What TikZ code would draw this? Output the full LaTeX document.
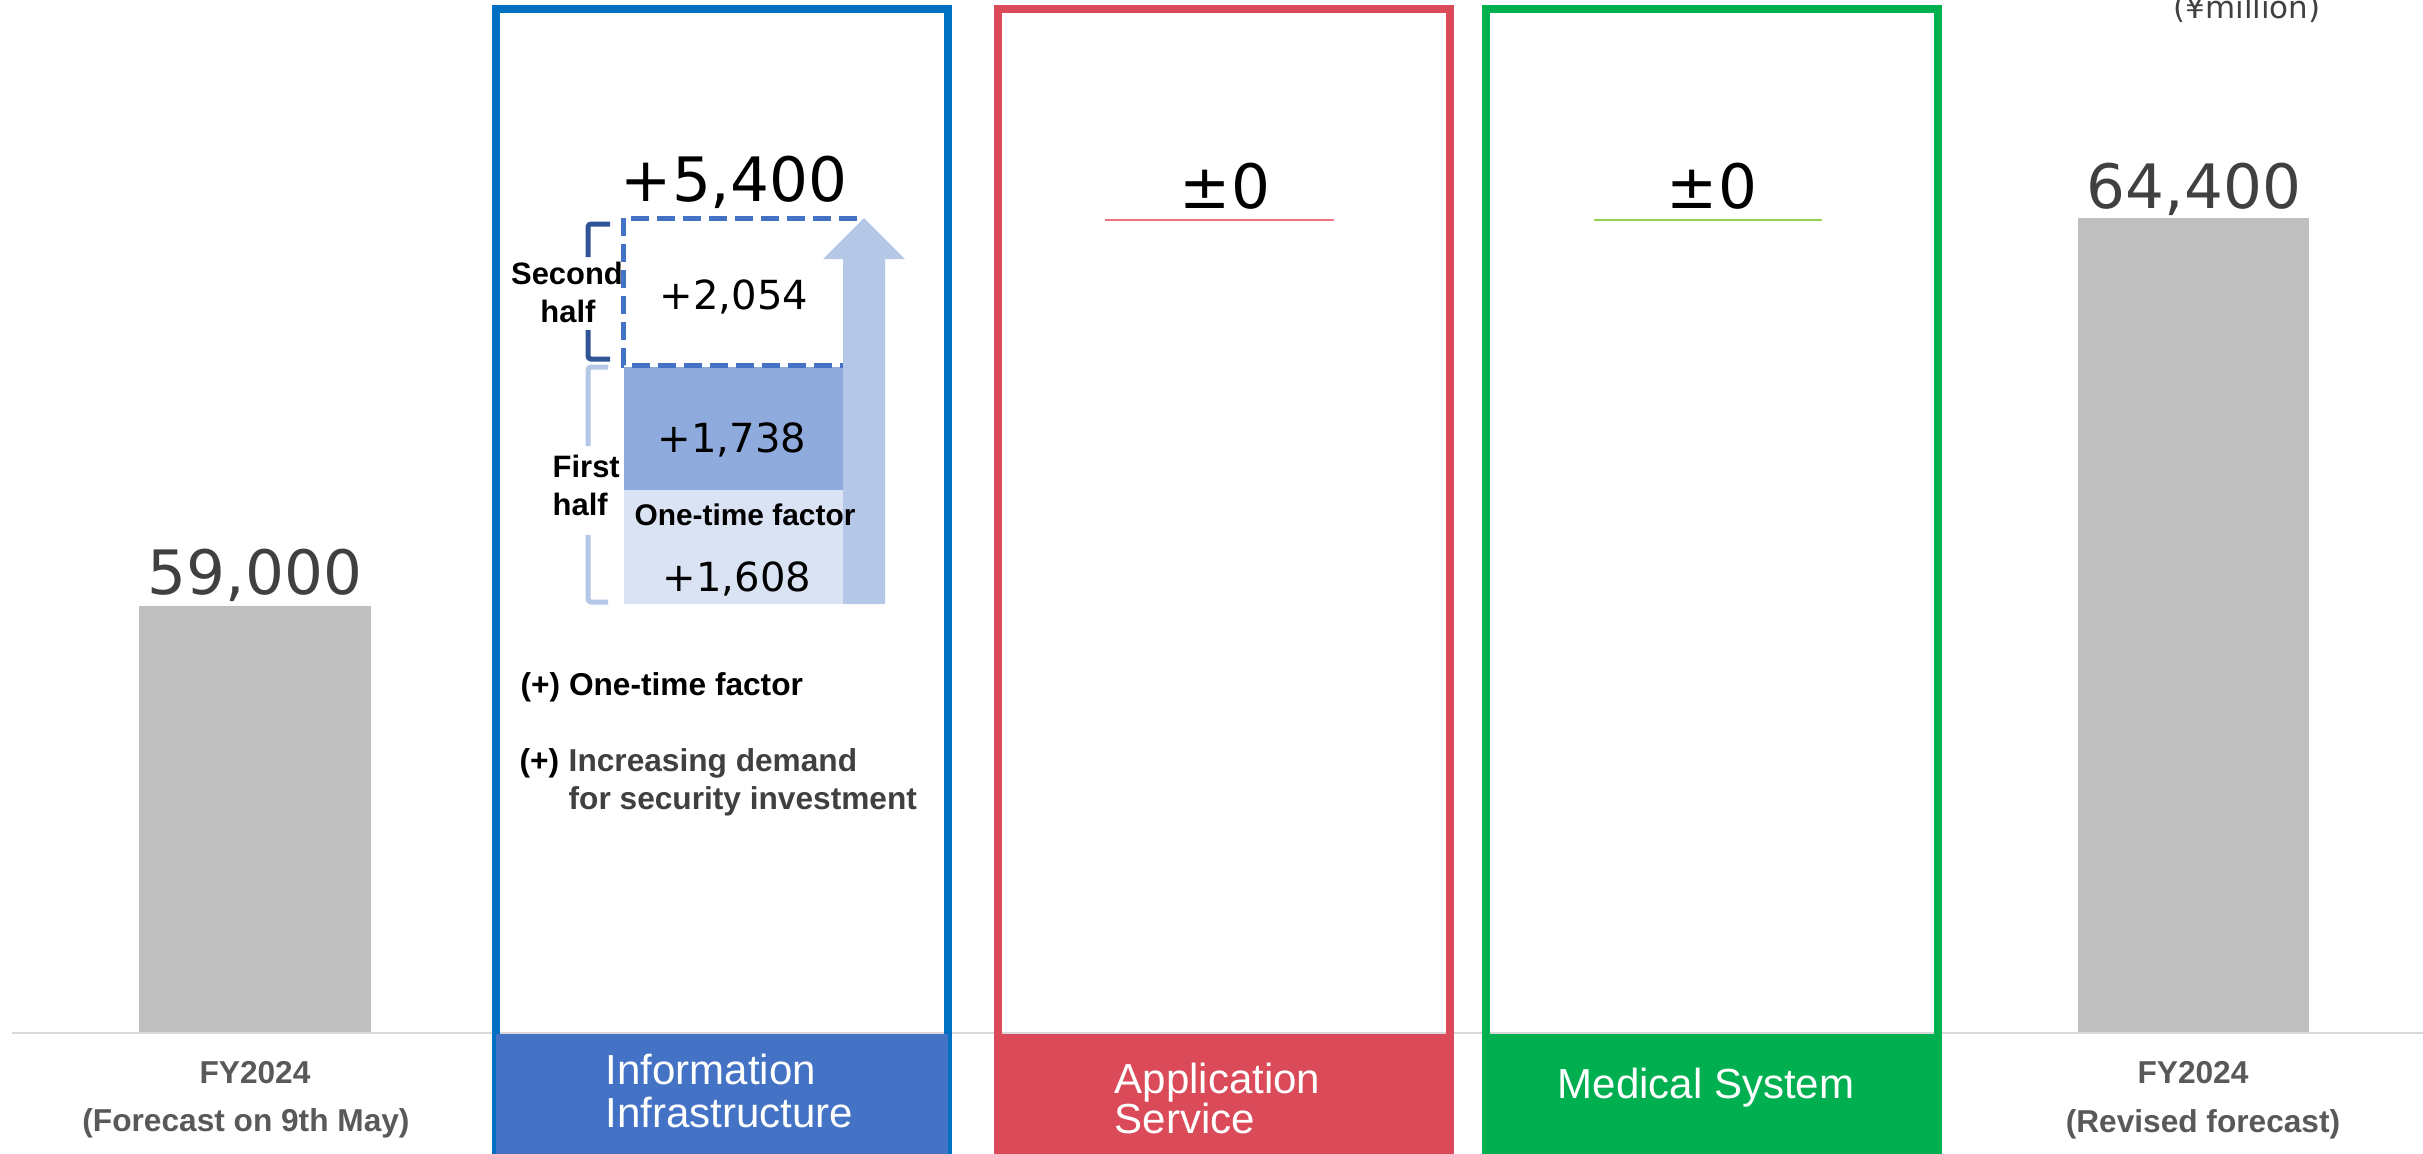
\documentclass[tikz,border=0pt]{standalone}
\usepackage{fontspec}
\setmainfont{Liberation Sans}
\newfontfamily\numfont{DejaVu Sans}
\definecolor{axisline}{HTML}{D9D9D9}
\definecolor{bargray}{HTML}{BFBFBF}
\definecolor{txtgray}{HTML}{404040}
\definecolor{axisgray}{HTML}{595959}
\definecolor{infoline}{HTML}{0070C0}
\definecolor{infofill}{HTML}{4472C4}
\definecolor{appred}{HTML}{DA4A58}
\definecolor{medgreen}{HTML}{00B050}
\definecolor{redline}{HTML}{EE7380}
\definecolor{greenline}{HTML}{92D050}
\definecolor{midblk}{HTML}{8FAADC}
\definecolor{lightblk}{HTML}{DAE3F3}
\definecolor{arrowblue}{HTML}{B4C7E7}
\definecolor{darkbr}{HTML}{2F5597}
\tikzset{
  val/.style={anchor=base, inner sep=0pt, font=\numfont\fontsize{17.4}{20}\selectfont},
  subval/.style={anchor=base, inner sep=0pt, font=\numfont\fontsize{11.4}{13}\selectfont},
  seglabel/.style={anchor=base west, inner sep=0pt, text=white, font=\fontsize{11.95}{14}\selectfont},
  axislabel/.style={anchor=base, inner sep=0pt, text=axisgray, font=\bfseries\fontsize{9}{11}\selectfont},
  note/.style={anchor=base west, inner sep=0pt, font=\bfseries\fontsize{9}{11}\selectfont},
  halflabel/.style={anchor=base, inner sep=0pt, font=\bfseries\fontsize{8.8}{10}\selectfont},
  segbox/.style={line width=0.08cm},
  bracketline/.style={line width=0.05cm, rounded corners=0.03cm},
}
\begin{document}
\begin{tikzpicture}[x=0.01cm,y=-0.01cm]
\useasboundingbox (0,0) rectangle (2423,1153);
\clip (0,0) rectangle (2423,1153);
% axis
\draw[axisline, line width=0.025cm] (12,1033) -- (2423,1033);
% gray bars
\fill[bargray] (139,606) rectangle (371,1032);
\fill[bargray] (2078,218) rectangle (2309,1032);
% segment boxes
\draw[segbox, draw=infoline] (496,9) rectangle (948,1200);
\fill[infofill] (496,1034) rectangle (948,1200);
\draw[segbox, draw=appred] (998,9) rectangle (1450,1200);
\fill[appred] (994,1034) rectangle (1454,1200);
\draw[segbox, draw=medgreen] (1486,9) rectangle (1938,1200);
\fill[medgreen] (1482,1034) rectangle (1942,1200);
% info internals
\fill[lightblk] (624,490) rectangle (843,604);
\fill[midblk] (624,367) rectangle (843,490);
\draw[infofill, line width=0.05cm, dash pattern=on 0.18cm off 0.08cm] (857,218) -- (623,218) -- (623,365) -- (843,365);
\fill[arrowblue] (843,604) -- (843,259) -- (823,259) -- (864,218) -- (905,259) -- (885,259) -- (885,604) -- cycle;
% brackets
\draw[bracketline, darkbr] (610,224) -- (588,224) -- (588,257);
\draw[bracketline, darkbr] (588,330) -- (588,359) -- (610,359);
\draw[bracketline, arrowblue] (608,367) -- (588,367) -- (588,446);
\draw[bracketline, arrowblue] (588,535) -- (588,602) -- (608,602);
% values
\node[val, text=txtgray] (v59) at (255,594) {59,000};
\node[val, text=txtgray] (v644) at (2194,208) {64,400};
\node[anchor=base, inner sep=0pt, font=\numfont\fontsize{8.8}{10}\selectfont, text=txtgray] (unit) at (2247,18) {(¥million)};
\node[val] (v54) at (734,201) {+5,400};
\node[subval] (v2054) at (734,309) {+2,054};
\node[subval] (v1738) at (732,452) {+1,738};
\node[anchor=base, inner sep=0pt, font=\bfseries\fontsize{8.5}{10}\selectfont] (otf) at (745,525) {One-time factor};
\node[subval] (v1608) at (737,591) {+1,608};
\node[halflabel] (sec1) at (567,284) {Second};
\node[halflabel] (sec2) at (568,322) {half};
\node[halflabel, anchor=base west] (fh1) at (552,477) {First};
\node[halflabel, anchor=base west] (fh2) at (552,515) {half};
\node[note] (n1) at (520,695) {(+) One-time factor};
\node[note] (n2) at (519,771) {(+)};
\node[note, text=txtgray] (n3) at (568,771) {Increasing demand};
\node[note, text=txtgray] (n4) at (568,809) {for security investment};
% zero changes
\node[val] (pm1) at (1225,208) {±0};
\draw[redline, line width=0.02cm] (1105,220) -- (1334,220);
\node[val] (pm2) at (1712,208) {±0};
\draw[greenline, line width=0.02cm] (1594,220) -- (1822,220);
% segment labels
\node[seglabel] (l1a) at (605,1084) {Information};
\node[seglabel] (l1b) at (605,1127) {Infrastructure};
\node[seglabel] (l2a) at (1114,1093) {Application};
\node[seglabel] (l2b) at (1114,1133) {Service};
\node[seglabel, anchor=base] (l3) at (1706,1098) {Medical System};
% axis labels
\node[axislabel] (f1a) at (255,1083) {FY2024};
\node[axislabel] (f1b) at (246,1131) {(Forecast on 9th May)};
\node[axislabel] (f2a) at (2193,1083) {FY2024};
\node[axislabel] (f2b) at (2203,1132) {(Revised forecast)};
\end{tikzpicture}
\end{document}
